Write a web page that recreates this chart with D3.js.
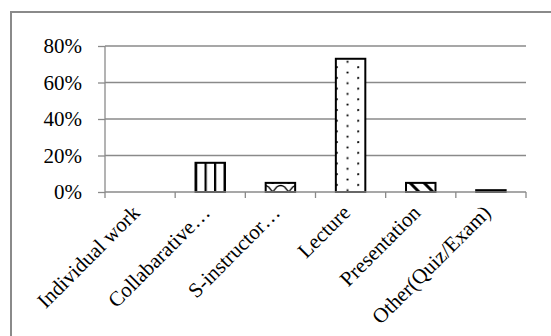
<!DOCTYPE html>
<html><head><meta charset="utf-8">
<script src="https://cdn.jsdelivr.net/npm/d3@7"></script>
<style>body{margin:0;background:#fff}svg{display:block}</style>
</head><body>
<svg id="c" width="551" height="336"></svg>
<script>
const categories = ["Individual work","Collabarative…","S-instructor…","Lecture","Presentation","Other(Quiz/Exam)"];
const values = [0, 0.16, 0.05, 0.73, 0.05, 0.01];
const patterns = ["none","vstripe","wave","dots","diag","solid"];
const yTicks = [0, 0.2, 0.4, 0.6, 0.8];

const svg = d3.select("#c");
const font = "'Liberation Serif','Times New Roman',serif";
const m = {left:105, right:526, top:46, bottom:192};

const x = d3.scaleBand().domain(categories).range([m.left, m.right]).paddingInner(0.58).paddingOuter(0.29);
const y = d3.scaleLinear().domain([0,0.8]).range([m.bottom, m.top]);

// defs
const defs = svg.append("defs");
const pv = defs.append("pattern").attr("id","vstripe").attr("patternUnits","userSpaceOnUse")
  .attr("width",9.5).attr("height",10).attr("x",x(categories[1])+9);
pv.append("rect").attr("width",9.5).attr("height",10).attr("fill","#fff");
pv.append("rect").attr("x",0).attr("width",2.2).attr("height",10).attr("fill","#000");
const pw = defs.append("pattern").attr("id","wave").attr("patternUnits","userSpaceOnUse")
  .attr("width",16).attr("height",8).attr("x",x(categories[2])+7).attr("y",y(0));
pw.append("rect").attr("width",16).attr("height",8).attr("fill","#fff");
pw.append("path").attr("d","M0,8 L4,3 Q8,0 12,3 L16,8").attr("fill","none").attr("stroke","#000").attr("stroke-width",1.3);
const pd = defs.append("pattern").attr("id","dots").attr("patternUnits","userSpaceOnUse")
  .attr("width",21.4).attr("height",10.7).attr("x",x(categories[3]));
pd.append("rect").attr("width",21.4).attr("height",10.7).attr("fill","#fff");
pd.append("circle").attr("cx",1).attr("cy",3).attr("r",1.1).attr("fill","#000");
pd.append("circle").attr("cx",11.7).attr("cy",8.3).attr("r",1.1).attr("fill","#000");
const pg = defs.append("pattern").attr("id","diag").attr("patternUnits","userSpaceOnUse")
  .attr("width",14).attr("height",14).attr("x",x(categories[4])+4).attr("y",y(0.05));
pg.append("rect").attr("width",14).attr("height",14).attr("fill","#fff");
pg.append("path").attr("d","M-3,-3 L17,17 M-3,11 L3,17 M11,-3 L17,3").attr("stroke","#000").attr("stroke-width",3);

// outer border
svg.append("rect").attr("x",11).attr("y",12).attr("width",560).attr("height",340)
  .attr("fill","none").attr("stroke","#8a8a8a").attr("stroke-width",2);

// gridlines
svg.append("g").selectAll("line").data(yTicks.filter(d=>d>0)).join("line")
  .attr("x1",m.left).attr("x2",m.right).attr("y1",d=>y(d)).attr("y2",d=>y(d))
  .attr("stroke","#8a8a8a").attr("stroke-width",1.3);

// y axis
const ya = svg.append("g").attr("transform",`translate(${m.left},0)`)
  .call(d3.axisLeft(y).tickValues(yTicks).tickFormat(d3.format(".0%")).tickSize(7).tickPadding(16));
ya.select(".domain").attr("stroke","#8a8a8a").attr("stroke-width",1.3).attr("d",`M0,${y(0.8)}V${y(0)}`);
ya.selectAll(".tick line").attr("stroke","#8a8a8a").attr("stroke-width",1.3);
ya.selectAll("text").attr("font-family",font).attr("font-size",21).attr("fill","#000");

// bars
svg.append("g").selectAll("rect").data(values).join("rect")
  .attr("x",(d,i)=>x(categories[i]))
  .attr("width",x.bandwidth())
  .attr("y",d=>y(d))
  .attr("height",d=>y(0)-y(d))
  .attr("fill",(d,i)=>patterns[i]==="solid"?"#000":(patterns[i]==="none"?"none":`url(#${patterns[i]})`))
  .attr("stroke",(d,i)=>d>0?"#000":"none")
  .attr("stroke-width",2);

// x axis
const step = x.step();
const xa = svg.append("g");
xa.append("line").attr("x1",m.left).attr("x2",m.right).attr("y1",y(0)).attr("y2",y(0))
  .attr("stroke","#8a8a8a").attr("stroke-width",1.3);
xa.selectAll("line.t").data(d3.range(categories.length+1)).join("line").attr("class","t")
  .attr("x1",i=>m.left+i*step).attr("x2",i=>m.left+i*step)
  .attr("y1",y(0)).attr("y2",y(0)+6).attr("stroke","#8a8a8a").attr("stroke-width",1.3);
xa.selectAll("text").data(categories).join("text")
  .attr("transform",d=>`translate(${x(d)+x.bandwidth()/2+1},${y(0)+22}) rotate(-45)`)
  .attr("text-anchor","end")
  .attr("font-family",font).attr("font-size",21).attr("fill","#000")
  .text(d=>d);
</script>
</body></html>
